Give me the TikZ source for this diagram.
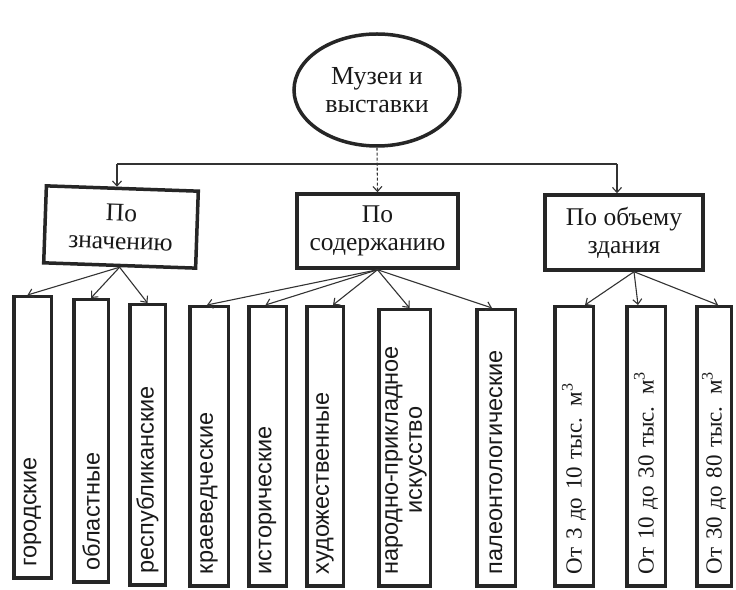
\documentclass[tikz,border=0pt]{standalone}
\usepackage{fontspec}
\setmainfont{Liberation Serif}
\setsansfont{Liberation Sans}
\usetikzlibrary{shapes.geometric,arrows.meta}

\begin{document}
\begin{tikzpicture}[x=1pt,y=1pt,
  frame/.style={draw=black!85, line width=3.5pt, fill=white, text=black!90},
  topic/.style={frame, align=center, inner sep=2pt,
    font=\fontsize{25.5}{28}\selectfont},
  leaf/.style={frame, rotate=90, align=left, inner xsep=12pt, inner ysep=0pt},
  sansleaf/.style={leaf, font=\sffamily\fontsize{23.5}{27}\selectfont},
  serifleaf/.style={leaf, font=\fontsize{23}{27}\selectfont},
  arr/.style={draw=black!80, line width=1.1pt,
    -{Straight Barb[length=5pt,width=9pt]}},
  bus/.style={draw=black!80, line width=1.1pt},
]
\useasboundingbox[fill=white] (0,0) rectangle (736,589);

% root
\node[frame, ellipse, minimum width=166pt, minimum height=112pt, inner sep=0pt,
  align=center, font=\fontsize{26}{28}\selectfont] (root) at (377,499)
  {Музеи и\\выставки};

% classification criteria
\node[topic, rotate=-2, minimum width=152pt, minimum height=77pt] (c1) at (121,362)
  {По\\значению};
\node[topic, minimum width=161pt, minimum height=74pt] (c2) at (377.5,358)
  {По\\содержанию};
\node[topic, minimum width=158pt, minimum height=75pt] (c3) at (624,356.5)
  {По объему\\здания};

% distribution line under the root
\coordinate (bl) at (117,425);
\coordinate (br) at (617,425);
\draw[bus] (bl) -- (br);
\draw[arr] (bl) -- (bl |- c1.north);
\draw[arr] (br) -- (br |- c3.north);
\draw[arr, dash pattern=on 3pt off 2pt] (root.south) -- (c2.north);

% by significance
\node[sansleaf, text width=257.5pt, minimum height=37.5pt] (l1) at (32.5,151.5) {городские};
\node[sansleaf, text width=258.5pt, minimum height=34.5pt] (l2) at (91,148) {областные};
\node[sansleaf, text width=256.5pt, minimum height=35.5pt] (l3) at (147.5,144) {республиканские};

% by content
\node[sansleaf, text width=255.5pt, minimum height=38.5pt] (l4) at (209,142.5) {краеведческие};
\node[sansleaf, text width=255.5pt, minimum height=37.5pt] (l5) at (267.5,142.5) {исторические};
\node[sansleaf, text width=255.5pt, minimum height=36.5pt] (l6) at (325,142.5) {художественные};
\node[sansleaf, text width=252.5pt, minimum height=51.5pt] (l7) at (404.5,141)
  {\begin{tabular}{@{}c@{}}народно-прикладное\\[-3pt]искусство\end{tabular}};
\node[sansleaf, text width=252.5pt, minimum height=38.5pt] (l8) at (496,141) {палеонтологические};

% by building volume
\node[serifleaf, text width=255.5pt, minimum height=38.5pt] (l9) at (574,142.5) {От 3 до 10 тыс. м\textsuperscript{3}};
\node[serifleaf, text width=255.5pt, minimum height=38.5pt] (l10) at (646,142.5) {От 10 до 30 тыс. м\textsuperscript{3}};
\node[serifleaf, text width=255.5pt, minimum height=34.5pt] (l11) at (714,142.5) {От 30 до 80 тыс. м\textsuperscript{3}};

% connectors to the leaves
\draw[arr] (c1.south) -- ([xshift=-5pt]l1.east);
\draw[arr] (c1.south) -- (l2.east);
\draw[arr] (c1.south) -- (l3.east);

\draw[arr] (c2.south) -- ([xshift=-2pt]l4.east);
\draw[arr] (c2.south) -- ([xshift=-2pt]l5.east);
\draw[arr] (c2.south) -- ([xshift=8pt]l6.east);
\draw[arr] (c2.south) -- ([xshift=5pt]l7.east);
\draw[arr] (c2.south) -- ([xshift=-4pt]l8.east);

\draw[arr] ([xshift=10pt]c3.south) -- ([xshift=11pt]l9.east);
\draw[arr] ([xshift=10pt]c3.south) -- ([xshift=-8pt]l10.east);
\draw[arr] ([xshift=10pt]c3.south) -- ([xshift=4pt]l11.east);
\end{tikzpicture}
\end{document}
